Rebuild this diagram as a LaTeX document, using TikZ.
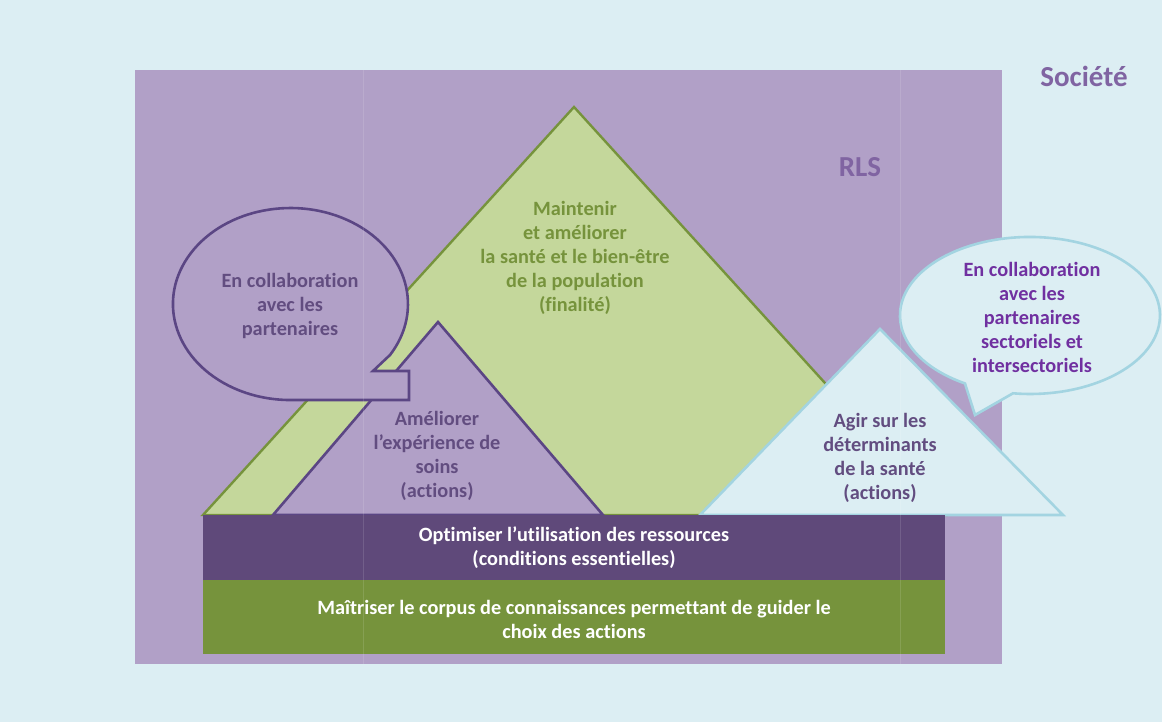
\documentclass[tikz,border=0pt]{standalone}
\usepackage{fontspec}
\setmainfont{Carlito}[Ligatures={NoCommon}]
\definecolor{bgblue}{HTML}{DCEEF3}
\definecolor{rlspurple}{HTML}{B1A0C7}
\definecolor{lightgreen}{HTML}{C4D79B}
\definecolor{darkgreen}{HTML}{76933C}
\definecolor{darkpurple}{HTML}{5F497A}
\definecolor{outlinepurple}{HTML}{5B4684}
\definecolor{skyline}{HTML}{A3D4E1}
\definecolor{titlepurple}{HTML}{8064A2}
\definecolor{textpurple}{HTML}{624D80}
\definecolor{brightpurple}{HTML}{7030A0}
\tikzset{
  lbl/.style={font=\bfseries\fontsize{20.3}{24}\selectfont, align=center, inner sep=0pt},
  bigLbl/.style={font=\bfseries\fontsize{29}{34}\selectfont, inner sep=0pt, text=titlepurple},
}
\begin{document}
\begin{tikzpicture}[x=1pt,y=-1pt]
\useasboundingbox (0,0) rectangle (1162,722);
% background
\fill[bgblue] (0,0) rectangle (1162,722);
% RLS rectangle
\fill[rlspurple] (135,70) rectangle (1002,664);
% main green triangle
\filldraw[fill=lightgreen, draw=darkgreen, line width=2.4pt, line join=miter]
  (574,107) -- (945,515) -- (203,515) -- cycle;
% small purple triangle
\filldraw[fill=rlspurple, draw=outlinepurple, line width=2.6pt]
  (438,322) -- (603,515) -- (273,515) -- cycle;
% left speech bubble
\filldraw[fill=rlspurple, draw=outlinepurple, line width=2.6pt]
  (390.1,354.9) arc[start angle=32, end angle=-270, x radius=117.5, y radius=96]
  -- (409,400) -- (409,371) -- (373,371) -- cycle;
% light blue triangle
\filldraw[fill=bgblue, draw=skyline, line width=2.6pt]
  (880,329) -- (1063,515) -- (700,515) -- cycle;
% right speech bubble
\filldraw[fill=bgblue, draw=skyline, line width=2.6pt]
  (1013,393.3) arc[start angle=97.5, end angle=-240, x radius=130, y radius=78.5]
  -- (975,415) -- cycle;
% bands
\fill[darkpurple] (203,515) rectangle (945,580);
\fill[darkgreen] (203,580) rectangle (945,654);
% faint scan lines
\draw[white, opacity=0.12, line width=1pt] (363,70) -- (363,664);
\draw[white, opacity=0.12, line width=1pt] (900,70) -- (900,664);
% texts
\node[bigLbl] (societe) at (1084,76) {Société};
\node[bigLbl] (rls) at (860,167) {RLS};
\node[lbl, text=darkgreen] (finalite) at (575,258) {Maintenir\\et améliorer\\la santé et le bien-être\\de la population\\(finalité)};
\node[lbl, text=textpurple] (partenaires) at (290,306) {En collaboration\\avec les\\partenaires};
\node[lbl, text=textpurple] (soins) at (437,456) {Améliorer\\l’expérience de\\soins\\(actions)};
\node[lbl, text=textpurple] (determinants) at (880,458) {Agir sur les\\déterminants\\de la santé\\(actions)};
\node[lbl, text=brightpurple] (sectoriels) at (1032,317) {En collaboration\\avec les\\partenaires\\sectoriels et\\intersectoriels};
\node[lbl, text=white] (ressources) at (574,548) {Optimiser l’utilisation des ressources\\(conditions essentielles)};
\node[lbl, text=white] (corpus) at (574,619) {Maîtriser le corpus de connaissances permettant de guider le\\choix des actions};
\end{tikzpicture}
\end{document}
